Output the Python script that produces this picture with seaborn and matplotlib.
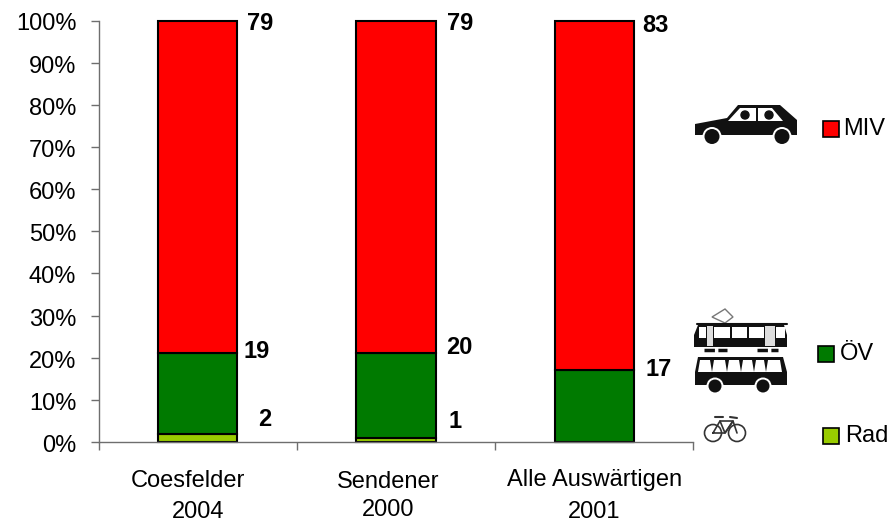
import matplotlib
matplotlib.use('Agg')
import matplotlib.pyplot as plt
import matplotlib.transforms as mtrans
import seaborn as sns
from matplotlib.patches import Circle, Polygon, Rectangle

# Daten
orte = ['Coesfelder', 'Sendener', 'Alle Auswärtigen']
jahre = ['2004', '2000', '2001']
rad = [2, 1, 0]
oev = [19, 20, 17]
miv = [79, 79, 83]
y_ticks = list(range(0, 101, 10))

ROT = '#ff0000'
GRUEN = '#007a00'
HELLGRUEN = '#99cc00'
GRAU = '#6e6e6e'
FS = 17

sns.set_theme(style='white')
plt.rcParams['font.family'] = ['Liberation Sans', 'DejaVu Sans']
plt.rcParams['text.color'] = 'black'

fig = plt.figure(figsize=(8.9, 5.22), dpi=100)
W, H = 890, 522
x0, x1, y0, y1 = 98.5, 693.5, 442, 20.5
ax = fig.add_axes([x0 / W, 1 - y0 / H, (x1 - x0) / W, (y0 - y1) / H])

# gestapelte Balken
unten = [0, 0, 0]
for werte, farbe in [(rad, HELLGRUEN), (oev, GRUEN), (miv, ROT)]:
    sns.barplot(x=orte, y=werte, bottom=unten, color=farbe, saturation=1,
                width=0.4, edgecolor='black', linewidth=1.5, ax=ax)
    unten = [u + w for u, w in zip(unten, werte)]

ax.set_xlim(-0.5, 2.5)
ax.set_ylim(0, 100)
ax.set_yticks(y_ticks)
ax.set_yticklabels([f'{t}%' for t in y_ticks], fontsize=FS, color='black')
ax.set_xticks([-0.5, 0.5, 1.5, 2.5])
ax.set_xticklabels([])
ax.tick_params(left=True, bottom=True, length=6, width=1, color=GRAU)
ax.tick_params(axis='y', pad=10)
# Beschriftung etwas nach unten
for t in ax.get_yticklabels():
    t.set_transform(t.get_transform() + mtrans.ScaledTranslation(0, -1.5 / 100, fig.dpi_scale_trans))
sns.despine(ax=ax)
for s in ['left', 'bottom']:
    ax.spines[s].set_color(GRAU)
    ax.spines[s].set_linewidth(1)
for b in ax.patches:
    b.set_clip_on(False)

# Overlay in Pixelkoordinaten für Texte und Piktogramme
ov = fig.add_axes([0, 0, 1, 1], facecolor='none')
ov.set_xlim(0, W)
ov.set_ylim(H, 0)
ov.axis('off')

# Werte an den Balken
wert_pos = [(miv[0], 260, 23), (miv[1], 460, 23), (miv[2], 655, 25),
            (oev[0], 257, 351), (oev[1], 459, 348), (oev[2], 659, 369),
            (rad[0], 265, 419), (rad[1], 455, 421)]
for v, px, py in wert_pos:
    ov.text(px, py, str(v), fontsize=FS, fontweight='bold', ha='center', va='center')

# Achsenbeschriftung
for name, jahr, nx, ny, jx, jy in zip(orte, jahre, [188, 388, 595], [481, 482, 480],
                                      [198, 388, 594], [512, 510, 512]):
    ov.text(nx, ny, name, fontsize=FS, ha='center', va='center')
    ov.text(jx, jy, jahr, fontsize=FS, ha='center', va='center')

# Legende
for label, farbe, qx, qy, tx in [('MIV', ROT, 823, 121, 843), ('ÖV', GRUEN, 818, 346, 840),
                                 ('Rad', HELLGRUEN, 823, 428, 845)]:
    ov.add_patch(Rectangle((qx, qy), 15.5, 15.5, facecolor=farbe, edgecolor='black', lw=1.2))
    ov.text(tx, qy + 8, label, fontsize=FS, ha='left', va='center')

K = '#111111'


def poly(pts, fc=K, ec='none', lw=0):
    ov.add_patch(Polygon(pts, closed=True, facecolor=fc, edgecolor=ec, lw=lw))


def rad_kreis(x, y, r):
    ov.add_patch(Circle((x, y), r + 2, facecolor='white', edgecolor='none'))
    ov.add_patch(Circle((x, y), r, facecolor=K, edgecolor='none'))


# Auto
poly([(695, 124), (727, 118), (738, 105), (780, 105), (797, 120), (797, 135), (695, 135)])
poly([(728, 121), (740, 108), (756, 108), (756, 121)], fc='white')
poly([(758, 108), (772, 108), (783, 121), (758, 121)], fc='white')
ov.add_patch(Circle((745, 115), 4, color=K))
ov.add_patch(Circle((769, 115), 4, color=K))
rad_kreis(712, 136.5, 7.5)
rad_kreis(782, 136.5, 7.5)

# Strassenbahn
poly([(725, 309), (733, 317), (725, 323), (712, 317)], fc='white', ec='#777777', lw=1)
ov.plot([697, 787], [324, 324], color=K, lw=1.5)
poly([(694, 347), (694, 335), (698, 325), (784, 325), (787, 335), (787, 347)])
for a, b in [(699, 706), (714, 730), (732, 747), (749, 764), (776, 785)]:
    poly([(a, 326.5), (b, 326.5), (b, 338), (a, 338)], fc='white')
ov.add_patch(Rectangle((707, 326), 6, 20, facecolor='#dddddd', edgecolor='none'))
ov.add_patch(Rectangle((765, 326), 10, 20, facecolor='#dddddd', edgecolor='none'))
for a, b in [(704, 727), (757, 778)]:
    ov.plot([a, b], [350, 350], color=K, lw=2.5, linestyle=(0, (3, 1)))

# Bus
poly([(698, 357), (783, 357), (787, 372), (787, 385), (695, 385), (695, 372)])
for a, b in [(699, 711), (713, 726), (728, 740), (742, 753), (755, 765), (767, 781)]:
    poly([(a + 1, 360), (b - 1, 360), (b + 1, 372), (a - 1, 372)], fc='white')
rad_kreis(715, 386, 6.5)
rad_kreis(763, 386, 6.5)

# Fahrrad
for cx in [713, 737]:
    ov.add_patch(Circle((cx, 433), 8.5, facecolor='none', edgecolor='#333333', lw=1.2))
ov.plot([713, 720, 733, 725, 713], [433, 421, 421, 433, 433], color='#333333', lw=1.2)
ov.plot([720, 725, 733, 737], [421, 433, 421, 433], color='#333333', lw=1.2)
ov.plot([715, 723], [417, 417], color='#333333', lw=1.5)
ov.plot([730, 737], [417, 418], color='#333333', lw=1.5)

plt.savefig('out.png', dpi=100)
